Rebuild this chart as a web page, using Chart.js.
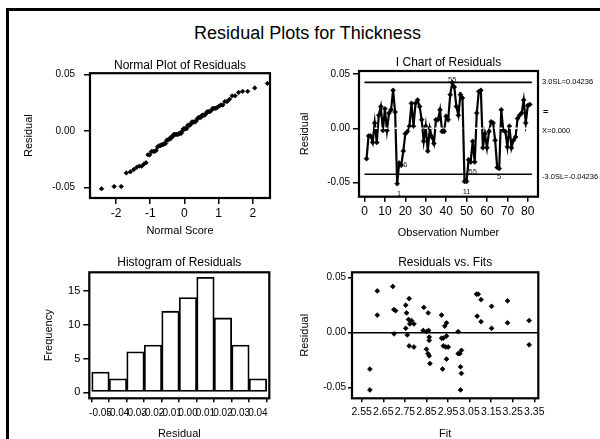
<!DOCTYPE html>
<html><head><meta charset="utf-8">
<script src="https://cdn.jsdelivr.net/npm/chart.js@4.4.0/dist/chart.umd.min.js"></script>
<style>
html,body{margin:0;padding:0;background:#fff;width:600px;height:439px;overflow:hidden;position:relative;font-family:'Liberation Sans',Arial,sans-serif}
#frame{position:absolute;left:6px;top:8px;width:620px;height:460px;border-top:3px solid #000;border-left:3px solid #000}
#mainTitle{position:absolute;left:0;width:615px;top:21px;text-align:center;font-size:18px;line-height:24px;color:#000}
canvas{position:absolute}
</style></head><body>
<div id="frame"></div>
<div id="mainTitle">Residual Plots for Thickness</div>
<canvas id="c1" width="300" height="200" style="left:0;top:40px"></canvas>
<canvas id="c2" width="310" height="200" style="left:290px;top:40px"></canvas>
<canvas id="c3" width="300" height="210" style="left:0;top:240px"></canvas>
<canvas id="c4" width="310" height="210" style="left:290px;top:240px"></canvas>
<script>
// ---------------- data ----------------
// residuals in observation order (I chart)
const residuals = [
 -0.028,-0.007,-0.007,-0.013,0.005,-0.013,0.012,0.020,-0.002,0.018,
 -0.002,0.014,0.017,0.035,0.015,-0.051,-0.032,-0.034,-0.021,-0.005,
 -0.003,0.002,0.023,0.002,0.023,0.026,0.020,0.008,-0.012,0.002,
 -0.021,0.000,-0.008,-0.014,0.008,0.008,0.017,-0.003,-0.003,0.011,
 0.008,0.031,0.042,0.038,0.020,0.012,0.031,0.028,-0.049,-0.049,
 -0.029,-0.031,-0.012,-0.031,0.014,0.034,0.035,-0.018,-0.005,-0.018,
 -0.003,0.006,0.005,-0.011,-0.036,-0.037,0.017,-0.002,-0.003,-0.017,
 0.002,-0.018,-0.011,-0.008,0.009,0.012,0.014,0.026,0.005,0.021,0.022
];
const uclValue = 0.04236, centerValue = 0.0, lclValue = -0.04236;
const controlStart = 0, controlEnd = 82;
const uclLabel = '3.0SL=0.04236', centerLabel = 'X=0.000', lclLabel = '-3.0SL=-0.04236';
// Minitab test-failure labels: observation number, text, placement
const testLabels = [
 {obs:16, text:'1', place:'below'},
 {obs:18, text:'6', place:'right'},
 {obs:43, text:'55', place:'above'},
 {obs:47, text:'2', place:'on'},
 {obs:49, text:'11', place:'below'},
 {obs:52, text:'55', place:'below'},
 {obs:65, text:'5', place:'below'}
];
// histogram
const histCenters = [-0.05,-0.04,-0.03,-0.02,-0.01,0.00,0.01,0.02,0.03,0.04];
const histCounts  = [3,2,6,7,12,14,17,11,7,2];
const histLabels  = ['-0.05','-0.04','-0.03','-0.02','-0.01','0.00','0.01','0.02','0.03','0.04'];
// residuals vs fits
const fits = [2.588,2.588,2.622,2.622,2.694,2.699,2.707,2.700,2.754,2.758,2.754,2.761,2.770,2.767,2.773,2.781,2.792,2.770,2.792,
 2.838,2.858,2.835,2.850,2.860,2.863,2.863,2.850,2.857,2.863,2.866,
 2.920,2.920,2.928,2.928,2.935,2.943,2.943,2.940,2.951,2.943,2.925,
 2.997,2.997,3.005,3.012,3.008,3.012,3.008,
 3.082,3.090,3.085,3.103,3.103,3.152,3.152,3.226,3.226,3.326,3.326];
const fitResiduals = [-0.033,-0.052,0.016,0.038,0.042,0.021,0.020,-0.001,0.025,0.018,0.004,-0.002,0.031,0.012,0.008,0.011,0.008,-0.012,-0.013,
 0.023,0.018,0.002,0.001,0.002,-0.004,-0.007,-0.015,-0.019,-0.021,-0.028,
 0.016,-0.005,-0.005,-0.012,0.006,0.009,-0.003,-0.013,-0.013,-0.024,-0.033,
 0.001,-0.019,-0.019,-0.016,-0.031,-0.037,-0.052,
 0.035,0.035,0.015,0.030,0.010,0.024,0.004,0.029,0.009,0.011,-0.011];
// tick values / labels
const residTicks = [-0.05, 0, 0.05];
const residTickLabels = ['-0.05','0.00','0.05'];
const normalTicks = [-2,-1,0,1,2];
const normalTickLabels = ['-2','-1','0','1','2'];
const obsTicks = [0,10,20,30,40,50,60,70,80];
const obsTickLabels = ['0','10','20','30','40','50','60','70','80'];
const freqTicks = [0,5,10,15];
const freqTickLabels = ['0','5','10','15'];
const fitTicks = [2.55,2.65,2.75,2.85,2.95,3.05,3.15,3.25,3.35];
const fitTickLabels = ['2.55','2.65','2.75','2.85','2.95','3.05','3.15','3.25','3.35'];

// ---------------- helpers ----------------
const FONT = "'Liberation Sans', Arial, sans-serif";
Chart.defaults.font.family = FONT;
Chart.defaults.color = '#000';
Chart.defaults.animation = false;

// normal scores (Blom) for the sorted residuals -- derived from the residuals above
function invNorm(p){
 const a=[-3.969683028665376e+01,2.209460984245205e+02,-2.759285104469687e+02,1.383577518672690e+02,-3.066479806614716e+01,2.506628277459239e+00];
 const b=[-5.447609879822406e+01,1.615858368580409e+02,-1.556989798598866e+02,6.680131188771972e+01,-1.328068155288572e+01];
 const c=[-7.784894002430293e-03,-3.223964580411365e-01,-2.400758277161838e+00,-2.549732539343734e+00,4.374664141464968e+00,2.938163982698783e+00];
 const d=[7.784695709041462e-03,3.224671290700398e-01,2.445134137142996e+00,3.754408661907416e+00];
 const pl=0.02425, ph=1-pl; let q,r;
 if(p<pl){q=Math.sqrt(-2*Math.log(p));return (((((c[0]*q+c[1])*q+c[2])*q+c[3])*q+c[4])*q+c[5])/((((d[0]*q+d[1])*q+d[2])*q+d[3])*q+1);}
 if(p<=ph){q=p-0.5;r=q*q;return (((((a[0]*r+a[1])*r+a[2])*r+a[3])*r+a[4])*r+a[5])*q/(((((b[0]*r+b[1])*r+b[2])*r+b[3])*r+b[4])*r+1);}
 q=Math.sqrt(-2*Math.log(1-p));return -(((((c[0]*q+c[1])*q+c[2])*q+c[3])*q+c[4])*q+c[5])/((((d[0]*q+d[1])*q+d[2])*q+d[3])*q+1);
}
const sortedResiduals = residuals.slice().sort((p,q)=>p-q);
const nRes = sortedResiduals.length;
const normalPoints = sortedResiduals.map((v,i)=>({x:invNorm((i+1-0.375)/(nRes+0.25)), y:v}));

function axis(o){
  return {
    type:'linear', position:o.pos, min:o.min, max:o.max, offset:false,
    afterBuildTicks: s => { s.ticks = o.ticks.map(v=>({value:v})); },
    afterFit: s => { if (o.pos==='left') s.width=o.size; else s.height=o.size; },
    ticks:{ autoSkip:false, maxRotation:0, minRotation:0, padding:o.pad, color:'#000',
            font:{family:FONT,size:o.fs}, callback:(v,i)=>o.labels[i] },
    grid:{ display:true, drawOnChartArea:false, drawTicks:true, tickLength:o.tl, color:'#000', lineWidth:1.5 },
    border:{ display:false },
    title:{ display:true, text:o.title, color:'#000', font:{family:FONT,size:11,lineHeight:1.2},
            padding:{top:o.tpad,bottom:o.tpad} }
  };
}
const boxPlugin = {id:'box', afterDatasetsDraw(chart){
  const {ctx, chartArea:a} = chart;
  ctx.save(); ctx.strokeStyle='#000'; ctx.lineWidth=2.2;
  ctx.strokeRect(a.left, a.top, a.right-a.left, a.bottom-a.top); ctx.restore();
}};
function titleOpt(text){
  return { display:true, text:text, color:'#000', fullSize:false,
           font:{family:FONT,size:12,weight:'normal',lineHeight:1.2}, padding:{top:15.8,bottom:2.1} };
}
const common = { responsive:false, devicePixelRatio:1, animation:false,
  plugins:{ legend:{display:false}, tooltip:{enabled:false} } };

// ---------------- 1. Normal plot ----------------
new Chart(document.getElementById('c1'), {
  type:'scatter',
  data:{ datasets:[{ data:normalPoints, pointStyle:'rectRot', pointRadius:2.2, pointBackgroundColor:'#000', pointBorderColor:'#000', pointBorderWidth:0.8 }]},
  options:{ ...common,
    layout:{ padding:{left:0, top:0, right:30, bottom:0} },
    plugins:{ ...common.plugins, title:{ ...titleOpt('Normal Plot of Residuals'), padding:{top:18.8,bottom:0} } },
    scales:{
      x: axis({pos:'bottom', min:-2.76, max:2.5, ticks:normalTicks, labels:normalTickLabels, size:42, tl:6, pad:2, fs:12, title:'Normal Score', tpad:2.4}),
      y: axis({pos:'left', min:-0.0591, max:0.051, ticks:residTicks, labels:residTickLabels, size:90, tl:6, pad:9, fs:10, title:'Residual', tpad:22.4})
    }
  },
  plugins:[boxPlugin]
});

// ---------------- 2. I Chart ----------------
const iAnnot = {id:'iAnnot', afterDraw(chart){
  const {ctx, chartArea:a, scales:{x, y}} = chart;
  ctx.save(); ctx.fillStyle='#000'; ctx.textBaseline='middle'; ctx.textAlign='left';
  ctx.font = '7.5px ' + FONT;
  const lx = a.right + 4;
  ctx.fillText(uclLabel, lx, y.getPixelForValue(uclValue));
  ctx.fillText(centerLabel, lx, y.getPixelForValue(centerValue) + 3);
  ctx.fillText(lclLabel, lx, y.getPixelForValue(lclValue) + 3);
  ctx.font = 'bold 9px ' + FONT;
  ctx.fillText('=', lx + 1, y.getPixelForValue(centerValue) - 16);
  ctx.font = '7.5px ' + FONT; ctx.fillStyle = '#222';
  testLabels.forEach(t => {
    const px = x.getPixelForValue(t.obs), py = y.getPixelForValue(residuals[t.obs-1]);
    if (t.place==='below'){ ctx.textAlign='center'; ctx.fillText(t.text, px+2, py+10); }
    else if (t.place==='above'){ ctx.textAlign='center'; ctx.fillText(t.text, px, py-3); }
    else if (t.place==='right'){ ctx.textAlign='left'; ctx.fillText(t.text, px+2, py); }
    else { ctx.textAlign='center'; ctx.fillText(t.text, px, py); }
  });
  ctx.restore();
}};
new Chart(document.getElementById('c2'), {
  type:'scatter',
  data:{ datasets:[
    { data:[{x:controlStart,y:centerValue},{x:controlEnd,y:centerValue}], showLine:true, borderColor:'#fff', borderWidth:1.5, borderDash:[3,2], pointRadius:0 },
    { data:residuals.map((v,i)=>({x:i+1,y:v})), showLine:true, borderColor:'#000', borderWidth:2.2, tension:0,
      pointStyle:'rectRot', pointRadius:2.5, pointBackgroundColor:'#000', pointBorderColor:'#000', pointBorderWidth:0.5 },
    { data:[{x:controlStart,y:uclValue},{x:controlEnd,y:uclValue}], showLine:true, borderColor:'#000', borderWidth:1.6, pointRadius:0 },
    { data:[{x:controlStart,y:lclValue},{x:controlEnd,y:lclValue}], showLine:true, borderColor:'#000', borderWidth:1.6, pointRadius:0 }
  ]},
  options:{ ...common,
    layout:{ padding:{left:0, top:0, right:62, bottom:0} },
    plugins:{ ...common.plugins, title:{ ...titleOpt('I Chart of Residuals'), padding:{top:15.8,bottom:0.8} } },
    scales:{
      x: axis({pos:'bottom', min:-2.7, max:85, ticks:obsTicks, labels:obsTickLabels, size:43.3, tl:5, pad:3, fs:12, title:'Observation Number', tpad:0.4}),
      y: axis({pos:'left', min:-0.063, max:0.0528, ticks:residTicks, labels:residTickLabels, size:69, tl:6, pad:3, fs:10, title:'Residual', tpad:8.4})
    }
  },
  plugins:[boxPlugin, iAnnot]
});

// ---------------- 3. Histogram ----------------
new Chart(document.getElementById('c3'), {
  type:'bar',
  data:{ datasets:[{ data:histCenters.map((c,i)=>({x:c,y:histCounts[i]})), backgroundColor:'#fff', borderColor:'#000',
    borderWidth:1.8, borderSkipped:false, barPercentage:1, categoryPercentage:1 }]},
  options:{ ...common,
    layout:{ padding:{left:0, top:0, right:30.7, bottom:0} },
    plugins:{ ...common.plugins, title:titleOpt('Histogram of Residuals') },
    scales:{
      x: axis({pos:'bottom', min:-0.0564, max:0.0465, ticks:histCenters, labels:histLabels, size:51.7, tl:4, pad:5, fs:10, title:'Residual', tpad:9.4}),
      y: axis({pos:'left', min:-0.89, max:17.75, ticks:freqTicks, labels:freqTickLabels, size:89.3, tl:6, pad:3, fs:11, title:'Frequency', tpad:42.4})
    }
  },
  plugins:[boxPlugin]
});

// ---------------- 4. Residuals vs Fits ----------------
const zeroLine = {id:'zeroLine', afterDatasetsDraw(chart){
  const {ctx, chartArea:a, scales:{y}} = chart; const py = y.getPixelForValue(0);
  ctx.save(); ctx.strokeStyle='#000'; ctx.lineWidth=1.6; ctx.beginPath(); ctx.moveTo(a.left,py); ctx.lineTo(a.right,py); ctx.stroke(); ctx.restore();
}};
new Chart(document.getElementById('c4'), {
  type:'scatter',
  data:{ datasets:[{ data:fits.map((f,i)=>({x:f,y:fitResiduals[i]})), pointStyle:'rectRot', pointRadius:2.4,
    pointBackgroundColor:'#000', pointBorderColor:'#000', pointBorderWidth:0.8 }]},
  options:{ ...common,
    layout:{ padding:{left:0, top:0, right:61.7, bottom:0} },
    plugins:{ ...common.plugins, title:titleOpt('Residuals vs. Fits') },
    scales:{
      x: axis({pos:'bottom', min:2.505, max:3.3685, ticks:fitTicks, labels:fitTickLabels, size:51.7, tl:4, pad:4, fs:10.5, title:'Fit', tpad:9.4}),
      y: axis({pos:'left', min:-0.0596, max:0.0549, ticks:residTicks, labels:residTickLabels, size:62, tl:4, pad:2, fs:10, title:'Residual', tpad:8.4})
    }
  },
  plugins:[boxPlugin, zeroLine]
});
</script>
</body></html>
